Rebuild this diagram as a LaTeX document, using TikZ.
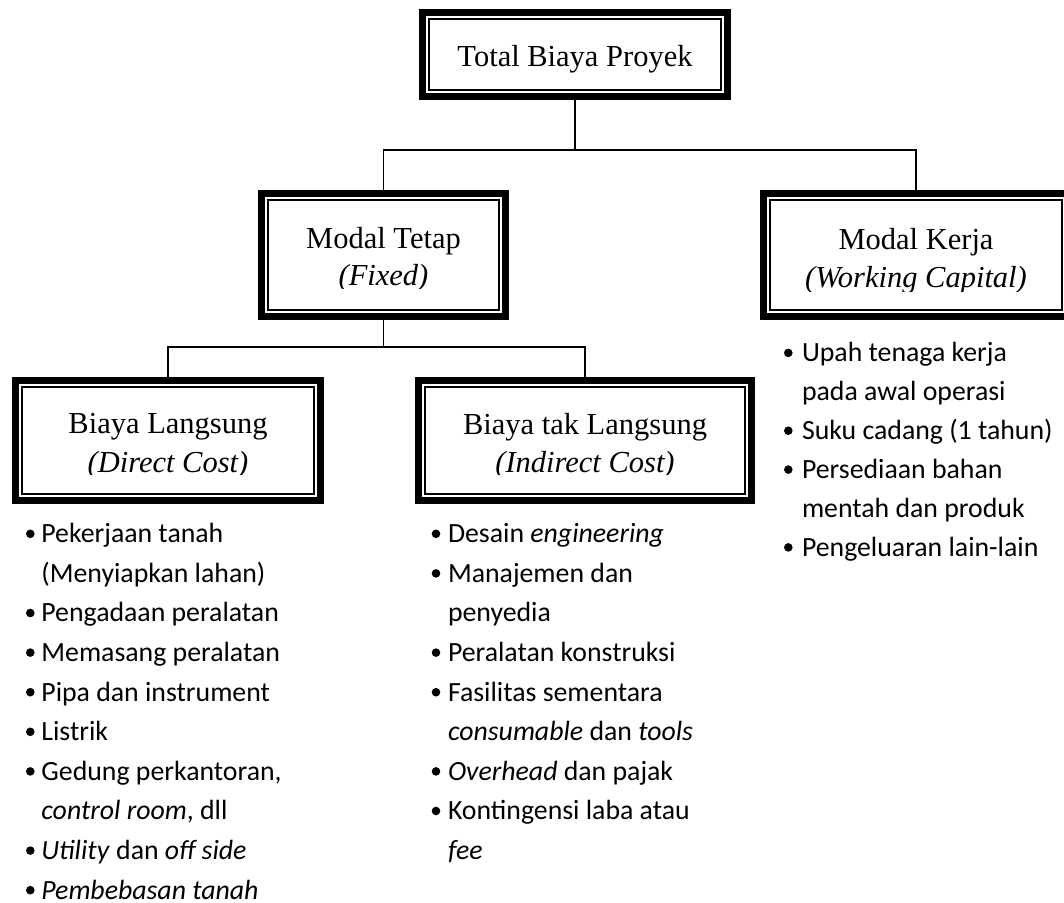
\documentclass[tikz,border=0pt]{standalone}
\usepackage{fontspec}
\setmainfont{Liberation Serif}
\newfontfamily\listfont{Carlito}
\begin{document}
\begin{tikzpicture}[x=1pt,y=-1pt,
  box/.style={rectangle, draw=none, inner sep=0pt},
  boxtext/.style={anchor=base, inner sep=0pt, font=\fontsize{30.5}{36}\selectfont},
  item/.style={anchor=base west, inner sep=0pt, font=\listfont\fontsize{27.8}{33}\selectfont},
  link/.style={line width=1.6pt},
  heavy/.style={line width=7pt},
  fine/.style={line width=1.5pt}]
\useasboundingbox (0,0) rectangle (1064,902);

% frames of the cost categories
\node[box, minimum width=312, minimum height=91]  (top)      at (575,54.5)   {};
\node[box, minimum width=251, minimum height=130] (fixed)    at (383.5,255)  {};
\node[box, minimum width=312, minimum height=130] (work)     at (916,255)    {};
\node[box, minimum width=312, minimum height=127] (direct)   at (168,440.5)  {};
\node[box, minimum width=340, minimum height=127] (indirect) at (585,440.5)  {};

% tree connectors
\coordinate (j1) at (575,150);
\coordinate (j2) at (383.5,347);
\draw[link] (top.south) -- (j1);
\draw[link] (j1) -| (fixed.north);
\draw[link] (j1) -| (work.north);
\draw[link] (fixed.south) -- (j2);
\draw[link] (j2) -| (direct.north);
\draw[link] (j2) -| (indirect.north);

% thick-thin borders
\foreach \b in {top,fixed,work,direct,indirect}{
  \draw[heavy] ([shift={(3.5,3.5)}]\b.north west) rectangle ([shift={(-3.5,-3.5)}]\b.south east);
  \draw[fine] ([shift={(10.2,10.2)}]\b.north west) rectangle ([shift={(-10.2,-10.2)}]\b.south east);
}

% titles inside the frames (text area clipped at its lower edge)
\node[boxtext] (ttop) at (575,66) {Total Biaya Proyek};
\begin{scope}
  \clip (258,190) rectangle (509,288);
  \node[boxtext] (tfixed1) at (383.5,248) {Modal Tetap};
  \node[boxtext] (tfixed2) at (383.5,285) {\textit{(Fixed)}};
\end{scope}
\begin{scope}
  \clip (760,190) rectangle (1072,291);
  \node[boxtext] (twork1) at (916,249) {Modal Kerja};
  \node[boxtext] (twork2) at (916,287) {\textit{(Working Capital)}};
\end{scope}
\begin{scope}
  \clip (12,377) rectangle (324,474);
  \node[boxtext] (tdirect1) at (168,433.5) {Biaya Langsung};
  \node[boxtext] (tdirect2) at (168,472.5) {\textit{(Direct Cost)}};
\end{scope}
\begin{scope}
  \clip (415,377) rectangle (755,474);
  \node[boxtext] (tindirect1) at (585,434.5) {Biaya tak Langsung};
  \node[boxtext] (tindirect2) at (585,472.5) {\textit{(Indirect Cost)}};
\end{scope}

% direct cost items
\foreach \k/\t in {0/{Pekerjaan tanah}, 1/{(Menyiapkan lahan)}, 2/{Pengadaan peralatan},
  3/{Memasang peralatan}, 4/{Pipa dan instrument}, 5/{Listrik}, 6/{Gedung perkantoran,},
  7/{\textit{control room}, dll}, 8/{\textit{Utility} dan \textit{off side}}, 9/{\textit{Pembebasan tanah}}}
  \node[item] (L\k) at (41.2, 542.6+\k*39.6) {\t};
\foreach \k in {0,2,3,4,5,6,8,9}
  \fill (30.3, 542.6+\k*39.6-8.8) circle[radius=4.3pt];

% indirect cost items
\foreach \k/\t in {0/{Desain \textit{engineering}}, 1/{Manajemen dan}, 2/{penyedia},
  3/{Peralatan konstruksi}, 4/{Fasilitas sementara}, 5/{\textit{consumable} dan \textit{tools}},
  6/{\textit{Overhead} dan pajak}, 7/{Kontingensi laba atau}, 8/{\textit{fee}}}
  \node[item] (M\k) at (447.8, 542.6+\k*39.6) {\t};
\foreach \k in {0,1,3,4,6,7}
  \fill (436, 542.6+\k*39.6-8.8) circle[radius=4.3pt];

% working capital items
\foreach \k/\t in {0/{Upah tenaga kerja}, 1/{pada awal operasi}, 2/{Suku cadang (1 tahun)},
  3/{Persediaan bahan}, 4/{mentah dan produk}, 5/{Pengeluaran lain-lain}}
  \node[item] (R\k) at (801.8, 361.7+\k*38.9) {\t};
\foreach \k in {0,2,3,5}
  \fill (788.3, 361.7+\k*38.9-8.8) circle[radius=4.3pt];
\end{tikzpicture}
\end{document}
